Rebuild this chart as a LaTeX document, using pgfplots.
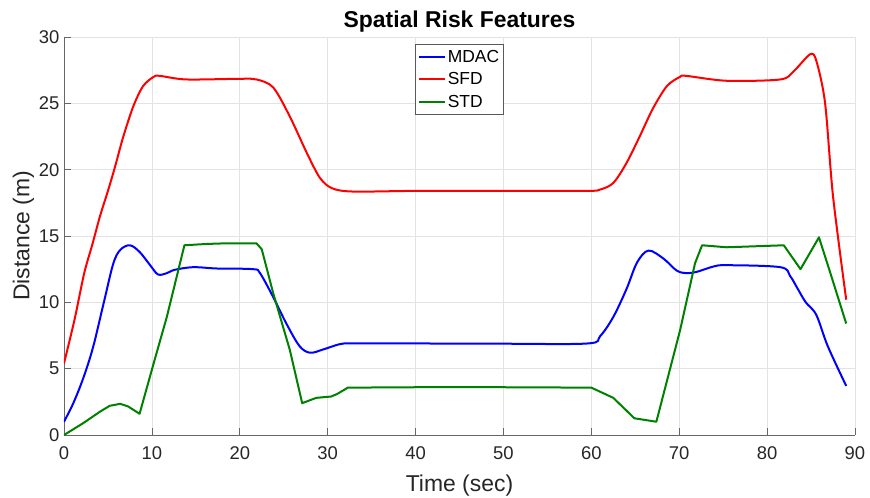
\documentclass[border=0pt]{standalone}
\usepackage{pgfplots}
\pgfplotsset{compat=1.18}
\usepackage{fontspec}
\setmainfont{Liberation Sans}
\definecolor{mblue}{rgb}{0,0,1}
\definecolor{mred}{rgb}{1,0,0}
\definecolor{mgreen}{rgb}{0,0.5,0}
\definecolor{axgray}{gray}{0.15}
\begin{document}
\begin{tikzpicture}
\path[use as bounding box] (-64bp,-63bp) rectangle (806bp,435bp);
\begin{axis}[
  scale only axis, width=791bp, height=398bp,
  xmin=0, xmax=90, ymin=0, ymax=30,
  xtick={0,10,...,90}, ytick={0,5,...,30},
  axis x line*=bottom, axis y line*=left,
  axis line style={axgray!70, line width=0.7bp},
  tick style={axgray!70, line width=0.7bp},
  tick align=inside, major tick length=7bp,
  grid=major, grid style={gray!22, line width=0.7bp},
  /pgf/number format/assume math mode=true,
  ticklabel style={font=\fontsize{18.5}{21}\selectfont, text=axgray},
  xticklabel style={yshift=-8bp},
  yticklabel style={xshift=-1bp},
  xlabel={Time (sec)}, ylabel={Distance (m)},
  label style={font=\fontsize{23}{27}\selectfont, text=axgray},
  xlabel style={yshift=-8bp},
  ylabel style={yshift=-2bp},
  title={\textbf{Spatial Risk Features}},
  title style={font=\fontsize{23}{27}\selectfont, yshift=-5bp},
  legend style={at={(0.5,0.982)}, anchor=north, font=\fontsize{17.5}{20}\selectfont, draw=gray!70!black, line width=0.7bp, inner xsep=2bp, inner ysep=3.5bp, row sep=5bp},
  legend cell align=left,
  legend image code/.code={\draw[#1, line width=2bp] (0bp,0bp) -- (26bp,0bp);},
  every axis plot/.append style={line width=2bp, line join=round},
]
\addplot[mblue, smooth, tension=0.55] coordinates {
(0,1.0) (1.06,2.4) (2.2,4.3) (3.3,6.6) (4.5,9.9) (5.6,12.9) (6.4,13.95) (7.5,14.3) (8.6,13.8) (9.8,12.8) (10.7,12.1) (11.7,12.2) (12.6,12.45) (14.7,12.65) (17.4,12.55) (21.5,12.5) (22.3,12.2) (23.8,10.4) (25.3,8.4) (26.8,6.7) (28.0,6.2) (29.5,6.45) (31.4,6.85) (32.9,6.9) (40,6.9) (50,6.88) (59.6,6.9) (61,7.45) (62.5,8.9) (64.0,11.0) (65.2,13.0) (66.5,13.9) (68.2,13.3) (69.7,12.4) (70.8,12.2) (72.0,12.3) (73.9,12.7) (75.4,12.8) (81.5,12.65) (82.6,12.0) (83.5,11.0) (84.4,10.0) (85.6,9.05) (86.9,6.7) (89,3.7)
};
\addlegendentry{MDAC}
\addplot[mred, smooth, tension=0.5] coordinates {
(0,5.4) (1.2,8.7) (2.3,12.2) (3.2,14.3) (4.1,16.5) (5.0,18.4) (5.8,20.2) (6.75,22.5) (7.9,24.8) (9.0,26.3) (10.2,27.0) (10.9,27.07) (13.9,26.8) (20,26.85) (21.9,26.8) (23.8,26.2) (25.7,24) (27.6,21.3) (29.1,19.4) (30.5,18.6) (32.9,18.35) (40,18.4) (50,18.4) (59.5,18.4) (61,18.5) (62.5,19.0) (64.0,20.5) (65.5,22.5) (67.0,24.6) (68.6,26.3) (70.1,27.0) (70.8,27.07) (75.4,26.7) (81.5,26.8) (83.0,27.4) (84.9,28.7) (85.6,28.2) (86.6,25.0) (87.5,18) (89,10.2)
};
\addlegendentry{SFD}
\addplot[mgreen] coordinates {
(0,0) (1.1,0.45) (2.2,0.9) (4.1,1.76) (5.2,2.2) (6.4,2.35) (7.3,2.15) (8.6,1.6) (10.2,5.4) (11.7,8.9) (13.7,14.3) (16.2,14.4) (18.5,14.45) (21.9,14.45) (22.5,14.0) (23.8,10.7) (25.7,6.4) (27.1,2.4) (28.7,2.8) (30.4,2.9) (31.1,3.1) (32.3,3.57) (40,3.6) (50,3.6) (60,3.57) (62.5,2.8) (64.9,1.26) (67.4,1.0) (70.1,7.9) (71.8,12.95) (72.6,14.3) (75.4,14.15) (81.9,14.3) (83.8,12.5) (85.9,14.9) (87.2,12.2) (89,8.4)
};
\addlegendentry{STD}
\end{axis}
\end{tikzpicture}
\end{document}
